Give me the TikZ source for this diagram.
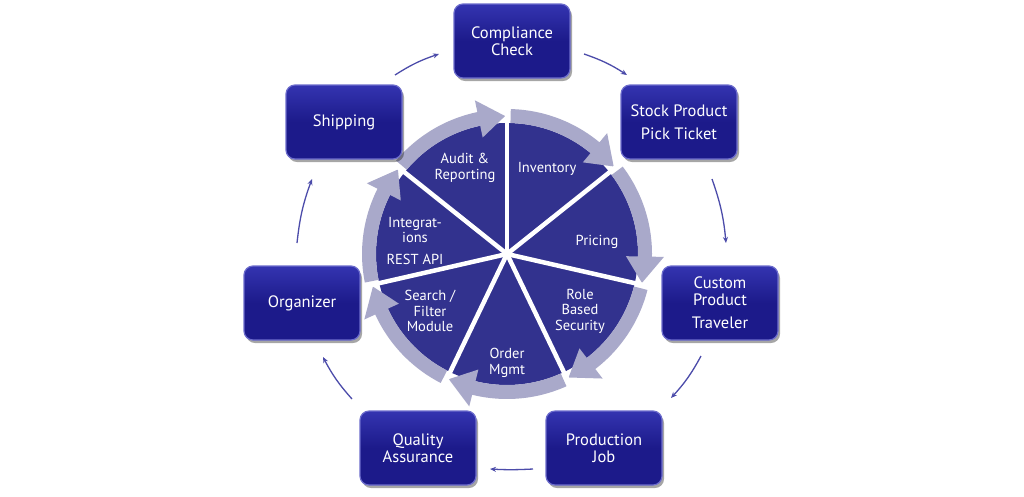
\documentclass[tikz,border=0pt]{standalone}
\usepackage{fontspec}
\setmainfont{PT Sans}
\usetikzlibrary{shadows,arrows.meta}
\definecolor{boxblue}{HTML}{1C1A8A}
\definecolor{boxtop}{HTML}{3434B0}
\definecolor{boxedge}{HTML}{6C6CCC}
\definecolor{piecol}{HTML}{32328E}
\definecolor{ringcol}{HTML}{A9A9CA}
\definecolor{conncol}{HTML}{4C4CAA}
\tikzset{
  box/.style={rounded corners=9pt, minimum width=116pt, minimum height=74pt,
    top color=boxtop, bottom color=boxblue, middle color=boxblue, draw=boxedge, line width=1.2pt,
    text=white, align=center, font=\fontsize{16.5}{17}\selectfont,
    drop shadow={shadow xshift=2pt, shadow yshift=-3pt, opacity=0.35, fill=black}},
  pielabel/.style={text=white, align=center, font=\fontsize{14.5}{15.5}\selectfont},
  conn/.style={draw=conncol, line width=1.3pt, -{Stealth[length=6pt,width=5pt]}},
}
\begin{document}
\begin{tikzpicture}[x=1pt,y=-1pt]
\path[use as bounding box, fill=white] (0,0) rectangle (1024,496);
% pie
\begin{scope}[shift={(507,254)}, x=1pt, y=1pt]
  \fill[piecol] (0,0) circle[radius=131];
  \foreach \k in {0,...,6}{
    \pgfmathsetmacro{\s}{90-\k*360/7-1.5}
    \pgfmathsetmacro{\tip}{90-(\k+1)*360/7+0.8}
    \pgfmathsetmacro{\eh}{\tip+11}
    \fill[ringcol] (\s:145) arc[start angle=\s, end angle=\eh, radius=145]
      -- (\eh:157) -- (\tip:138) -- (\eh:119) -- (\eh:131)
      arc[start angle=\eh, end angle=\s, radius=131] -- cycle;
  }
  \foreach \k in {0,...,6}{
    \pgfmathsetmacro{\a}{90-\k*360/7}
    \draw[white, line width=4.5pt] (0,0) -- (\a:150);
  }
\end{scope}
\node[pielabel] (audit) at (465,168) {Audit \&\\Reporting};
\node[pielabel] (inv) at (547,169) {Inventory};
\node[pielabel] (pricing) at (597,242) {Pricing};
\node[pielabel] (role) at (580,311) {Role\\Based\\Security};
\node[pielabel] (order) at (507,363) {Order\\Mgmt};
\node[pielabel] (search) at (430,311) {Search /\\Filter\\Module};
\node[pielabel] (integ) at (415,241) {Integrat-\\ions\\[6pt]REST API};
% boxes
\node[box] (comp) at (512,41) {Compliance\\Check};
\node[box] (stock) at (679,122) {Stock Product\\[6pt]Pick Ticket};
\node[box] (custom) at (720,303) {Custom\\Product\\[6pt]Traveler};
\node[box] (prod) at (604,448) {Production\\Job};
\node[box] (qa) at (418,448) {Quality\\Assurance};
\node[box] (org) at (302,303) {Organizer};
\node[box] (ship) at (344,122) {Shipping};
% connectors
\coordinate (c1a) at (395,75);  \coordinate (c1b) at (439,54);
\coordinate (c2a) at (584,54);  \coordinate (c2b) at (627,75);
\coordinate (c3a) at (712,179); \coordinate (c3b) at (726,243);
\coordinate (c4a) at (701,356); \coordinate (c4b) at (671,398);
\coordinate (c5a) at (533,469); \coordinate (c5b) at (490,469);
\coordinate (c6a) at (352,399); \coordinate (c6b) at (323,357);
\coordinate (c7a) at (297,243); \coordinate (c7b) at (312,179);
\draw[conn] (c1a) to[bend left=7] (c1b);
\draw[conn] (c2a) to[bend left=7] (c2b);
\draw[conn] (c3a) to[bend left=7] (c3b);
\draw[conn] (c4a) to[bend left=7] (c4b);
\draw[conn] (c5a) to[bend left=3] (c5b);
\draw[conn] (c6a) to[bend left=7] (c6b);
\draw[conn] (c7a) to[bend left=7] (c7b);
\end{tikzpicture}
\end{document}
